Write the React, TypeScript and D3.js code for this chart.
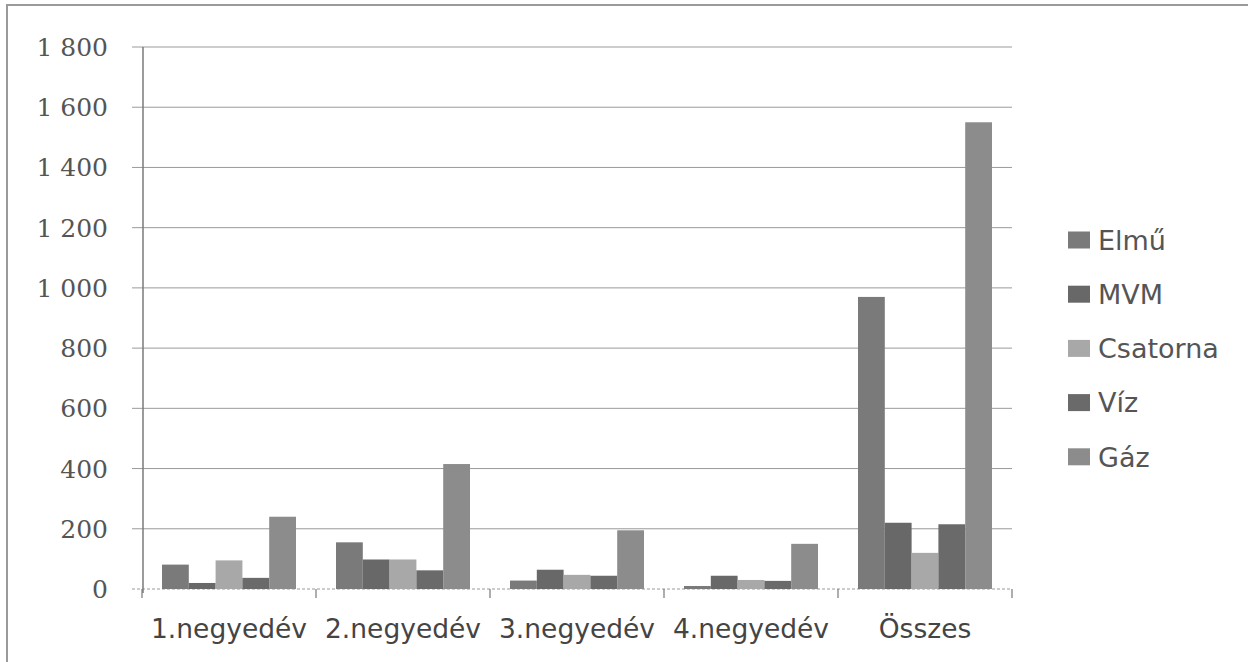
import React from 'react';
import * as d3 from 'd3';

const categories = ['1.negyedév', '2.negyedév', '3.negyedév', '4.negyedév', 'Összes'];
const seriesNames = ['Elmű', 'MVM', 'Csatorna', 'Víz', 'Gáz'];
const elmu = [81, 155, 28, 10, 970];
const mvm = [20, 98, 64, 44, 220];
const csatorna = [95, 98, 47, 30, 120];
const viz = [37, 62, 44, 27, 215];
const gaz = [240, 415, 195, 150, 1550];
const yTicks = [0, 200, 400, 600, 800, 1000, 1200, 1400, 1600, 1800];
const colors = ['#7a7a7a', '#686868', '#a8a8a8', '#6a6a6a', '#8c8c8c'];

const values = [elmu, mvm, csatorna, viz, gaz];

const W = 1248;
const H = 662;

const App: React.FC = () => {
  const x0 = d3.scaleBand<string>().domain(categories).range([142, 1012]);
  const x1 = d3
    .scaleBand<string>()
    .domain(seriesNames)
    .range([20, x0.bandwidth() - 20]);
  const y = d3.scaleLinear().domain([0, 1800]).range([589, 47]);
  const fmt = (v: number) => (v >= 1000 ? `${Math.floor(v / 1000)} ${String(v % 1000).padStart(3, '0')}` : `${v}`);

  const boundaries = categories.map((c) => x0(c)!).concat([x0.range()[1]]);

  return (
    <svg width={W} height={H} style={{ position: 'absolute', left: 0, top: 0, background: '#fff' }}>
      {/* outer frame of the scanned chart */}
      <rect x={7} y={5} width={W + 20} height={H + 20} fill="none" stroke="#9a9a9a" strokeWidth={2} />

      {/* gridlines */}
      {yTicks.map((t) => (
        <line key={t} x1={132} x2={1012} y1={y(t)} y2={y(t)} stroke="#9a9a9a" strokeWidth={1} strokeDasharray={t === 0 ? '3 2' : undefined} />
      ))}

      {/* y axis */}
      <line x1={143} x2={143} y1={y(1800)} y2={y(0) + 4} stroke="#7a7a7a" strokeWidth={1.5} />
      {yTicks.map((t) => (
        <text
          key={`l${t}`}
          x={108}
          y={y(t)}
          dy="0.36em"
          textAnchor="end"
          fontFamily="DejaVu Serif"
          fontSize={25}
          fill="#555"
        >
          {fmt(t)}
        </text>
      ))}

      {/* x ticks */}
      {boundaries.map((b, i) => (
        <line key={`t${i}`} x1={b} x2={b} y1={y(0)} y2={y(0) + 9} stroke="#777" strokeWidth={1.2} />
      ))}

      {/* bars */}
      {categories.map((c, ci) => (
        <g key={c} transform={`translate(${x0(c)},0)`}>
          {seriesNames.map((s, si) => (
            <rect
              key={s}
              x={x1(s)}
              y={y(values[si][ci])}
              width={x1.bandwidth()}
              height={y(0) - y(values[si][ci])}
              fill={colors[si]}
            />
          ))}
        </g>
      ))}

      {/* x labels */}
      {categories.map((c) => (
        <text
          key={`x${c}`}
          x={x0(c)! + x0.bandwidth() / 2}
          y={638}
          textAnchor="middle"
          fontFamily="DejaVu Sans"
          fontSize={26.5}
          fill="#444"
        >
          {c}
        </text>
      ))}

      {/* legend */}
      {seriesNames.map((s, i) => {
        const cy = 240 + i * 54.2;
        return (
          <g key={`lg${s}`}>
            <rect x={1068} y={cy - 8.5} width={22} height={17} fill={colors[i]} />
            <text x={1098} y={cy} dy="0.36em" fontFamily="DejaVu Sans" fontSize={27} fill="#555">
              {s}
            </text>
          </g>
        );
      })}
    </svg>
  );
};

export default App;
